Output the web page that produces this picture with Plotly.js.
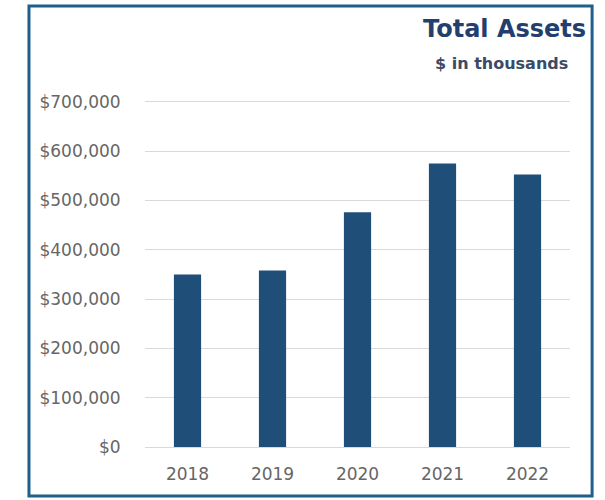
<!DOCTYPE html>
<html>
<head>
<meta charset="utf-8">
<script src="https://cdn.plot.ly/plotly-3.0.1.min.js"></script>
<style>
  html, body { margin: 0; padding: 0; background: #ffffff; }
  #chart { width: 605px; height: 500px; }
</style>
</head>
<body>
<div id="chart"></div>
<script>
const years = ["2018", "2019", "2020", "2021", "2022"];
const totalAssets = [350000, 358000, 476000, 575000, 553000];
const tickValues = [0, 100000, 200000, 300000, 400000, 500000, 600000, 700000];
const tickLabels = ["$0", "$100,000", "$200,000", "$300,000", "$400,000", "$500,000", "$600,000", "$700,000"];
const chartTitle = "Total Assets";
const chartSubtitle = "$ in thousands";

const trace = {
  type: "bar",
  x: years,
  y: totalAssets,
  marker: { color: "#1f4e79" },
  hoverinfo: "skip"
};

const layout = {
  width: 605,
  height: 500,
  margin: { l: 145, r: 35, t: 97, b: 53 },
  paper_bgcolor: "#ffffff",
  plot_bgcolor: "#ffffff",
  showlegend: false,
  bargap: 0.68,
  font: { family: "DejaVu Sans", color: "#666666", size: 17 },
  xaxis: {
    type: "category",
    showgrid: false,
    showline: false,
    zeroline: false,
    ticks: "outside",
    ticklen: 12,
    tickcolor: "rgba(0,0,0,0)",
    tickfont: { family: "DejaVu Sans", size: 17, color: "#666666" }
  },
  yaxis: {
    range: [0, 710000],
    tickvals: tickValues,
    ticktext: tickLabels,
    showgrid: true,
    gridcolor: "#d9d9d9",
    gridwidth: 1,
    zeroline: true,
    zerolinecolor: "#d9d9d9",
    zerolinewidth: 1,
    showline: false,
    ticks: "outside",
    ticklen: 20,
    tickcolor: "rgba(0,0,0,0)",
    tickfont: { family: "DejaVu Sans", size: 17, color: "#666666" }
  },
  shapes: [{
    type: "rect",
    xref: "paper", yref: "paper",
    x0: -0.273, x1: 1.052,
    y0: -0.14, y1: 1.26,
    line: { color: "#1f5f8b", width: 3 },
    fillcolor: "rgba(0,0,0,0)",
    layer: "below"
  }],
  annotations: [
    {
      text: "<b>" + chartTitle + "</b>",
      xref: "paper", yref: "paper",
      x: 1.042, y: 1.195,
      xanchor: "right", yanchor: "middle",
      showarrow: false,
      font: { family: "DejaVu Sans", size: 24, color: "#243f6e" }
    },
    {
      text: "<b>" + chartSubtitle + "</b>",
      xref: "paper", yref: "paper",
      x: 1.0, y: 1.097,
      xanchor: "right", yanchor: "middle",
      showarrow: false,
      font: { family: "DejaVu Sans", size: 16, color: "#3b4a66" }
    }
  ]
};

Plotly.newPlot("chart", [trace], layout, { displayModeBar: false, staticPlot: true });
</script>
</body>
</html>
